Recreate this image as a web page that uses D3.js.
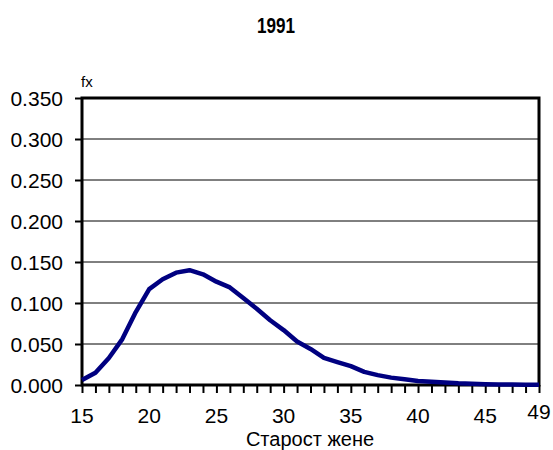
<!DOCTYPE html>
<html>
<head>
<meta charset="utf-8">
<script src="https://cdn.jsdelivr.net/npm/d3@7"></script>
<style>
body { margin: 0; background: #fff; }
text { font-family: "Liberation Sans", Arial, sans-serif; }
</style>
</head>
<body>
<svg id="chart" width="553" height="450"></svg>
<script>
// ages 15..49, fertility share
var ages = d3.range(15, 50);
var fx = [0.006, 0.015, 0.033, 0.056, 0.089, 0.117, 0.129, 0.137, 0.140, 0.135,
          0.126, 0.119, 0.106, 0.093, 0.079, 0.067, 0.053, 0.044, 0.033, 0.028,
          0.023, 0.016, 0.012, 0.009, 0.007, 0.005, 0.004, 0.003, 0.002, 0.0015,
          0.001, 0.0007, 0.0005, 0.0003, 0.0002];
var yTicks = [0, 0.05, 0.1, 0.15, 0.2, 0.25, 0.3, 0.35];
var xLabels = [15, 20, 25, 30, 35, 40, 45, 49];

var svg = d3.select("#chart");
var x = d3.scaleLinear().domain([15, 49]).range([82, 539]);
var y = d3.scaleLinear().domain([0, 0.35]).range([385, 98]);

svg.append("text").attr("x", 276).attr("y", 33).attr("text-anchor", "middle")
   .attr("textLength", 38).attr("lengthAdjust", "spacingAndGlyphs")
   .style("font-size", "22px").style("font-weight", "bold").text("1991");

// grid
svg.selectAll(".grid").data(yTicks).enter().append("line")
   .attr("x1", x(15)).attr("x2", x(49))
   .attr("y1", function (d) { return y(d); }).attr("y2", function (d) { return y(d); })
   .attr("stroke", "#000").attr("stroke-width", 1);

// y axis
var yAxis = svg.append("g").attr("transform", "translate(" + x(15) + ",0)")
   .call(d3.axisLeft(y).tickValues(yTicks).tickFormat(d3.format(".3f")).tickSize(7).tickPadding(12));
yAxis.select(".domain").remove();
yAxis.selectAll("line").attr("stroke-width", 2);
yAxis.selectAll("text").style("font-size", "21px").attr("fill", "#000").attr("dy", "0.36em");

// x axis
var xAxis = svg.append("g").attr("transform", "translate(0," + y(0) + ")")
   .call(d3.axisBottom(x).tickValues(ages).tickFormat("").tickSize(8));
xAxis.select(".domain").remove();
xAxis.selectAll("line").attr("stroke-width", 2);

svg.selectAll(".xl").data(xLabels).enter().append("text")
   .attr("x", function (d) { return x(d); })
   .attr("y", function (d) { return d === 49 ? 419 : 423; })
   .attr("text-anchor", "middle").style("font-size", "21px")
   .text(function (d) { return d; });

// frame
svg.append("path")
   .attr("d", "M" + x(15) + "," + y(0) + "V" + y(0.35) + "H" + x(49) + "V" + y(0) + "Z")
   .attr("fill", "none").attr("stroke", "#000").attr("stroke-width", 3);

svg.append("text").attr("x", 81).attr("y", 87).attr("text-anchor", "start")
   .style("font-size", "15px").text("fx");

svg.append("text").attr("x", 310).attr("y", 446).attr("text-anchor", "middle")
   .style("font-size", "20px").text("Старост жене");

var line = d3.line()
   .x(function (d, i) { return x(ages[i]); })
   .y(function (d) { return y(d); });

svg.append("path").datum(fx)
   .attr("d", line)
   .attr("fill", "none").attr("stroke", "#000080").attr("stroke-width", 4.5)
   .attr("stroke-linejoin", "round");
</script>
</body>
</html>
